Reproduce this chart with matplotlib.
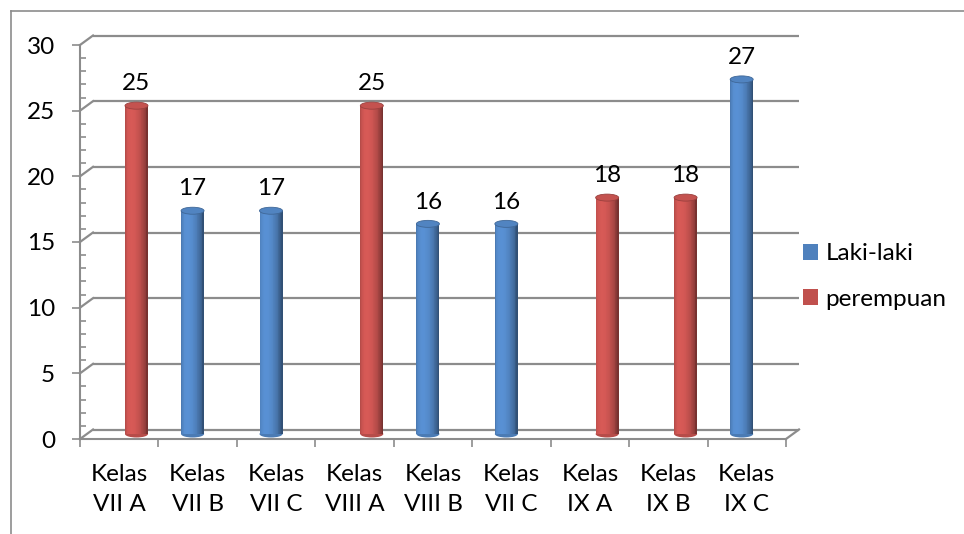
import numpy as np
import matplotlib
matplotlib.use('Agg')
import matplotlib.pyplot as plt
import matplotlib.transforms as mtransforms
from matplotlib.patches import Ellipse, Patch
from matplotlib.lines import Line2D
from matplotlib.colors import to_rgb

# ---- data ----
categories = ['Kelas\nVII A', 'Kelas\nVII B', 'Kelas\nVII C', 'Kelas\nVIII A',
              'Kelas\nVIII B', 'Kelas\nVII C', 'Kelas\nIX A', 'Kelas\nIX B', 'Kelas\nIX C']
laki = [0, 17, 17, 0, 16, 16, 0, 0, 27]
perempuan = [25, 0, 0, 25, 0, 0, 18, 18, 0]
yticks = [0, 5, 10, 15, 20, 25, 30]
series_names = ['Laki-laki', 'perempuan']
colors = ['#4F81BD', '#C0504D']

plt.rcParams['font.family'] = ['Lato', 'DejaVu Sans']
FS = 17.5
W, H = 964, 534
fig = plt.figure(figsize=(W / 100, H / 100), dpi=100)
ax = fig.add_axes([80 / W, 1 - 439 / H, 706 / W, 394 / H])
ax.set_xlim(-0.5, 8.5)
ax.set_ylim(0, 30)
ax.patch.set_alpha(0)
grey = '#8C8C8C'
for s in ['top', 'right']:
    ax.spines[s].set_visible(False)
for s in ['left', 'bottom']:
    ax.spines[s].set_color(grey)
    ax.spines[s].set_linewidth(1.5)

ppu_x = 706 / 9
ppu_y = 394 / 30
dxu = 13 / ppu_x
dyu = 9.5 / ppu_y

# back wall gridlines + depth diagonals
for v in yticks:
    ax.plot([-0.5 + dxu, 8.5 + dxu], [v + dyu, v + dyu], color=grey, lw=1.6,
            clip_on=False, zorder=1, solid_capstyle='butt')
    ax.plot([-0.5, -0.5 + dxu], [v, v + dyu], color=grey, lw=1.6, clip_on=False, zorder=1)
ax.plot([8.5, 8.5 + dxu], [0, dyu], color=grey, lw=1.6, clip_on=False, zorder=1)

# ticks
ax.set_yticks(yticks)
ax.set_yticks(np.arange(0, 31, 1), minor=True)
ax.tick_params(axis='y', which='major', direction='out', length=6, width=1.2,
               color=grey, labelsize=FS, pad=12)
ax.tick_params(axis='y', which='minor', direction='in', length=4.5, width=1.2, color=grey)
ax.set_xticks(range(len(categories)))
ax.set_xticklabels(categories, linespacing=1.55)
ax.set_xticks(np.arange(-0.5, len(categories), 1), minor=True)
ax.tick_params(axis='x', which='major', length=0, labelsize=FS, pad=18)
ax.tick_params(axis='x', which='minor', direction='out', length=6, width=1.2, color=grey)

# cylinders
bar_trans = ax.transData + mtransforms.ScaledTranslation(0, 5 / 100, fig.dpi_scale_trans)
offsets = [-0.065, 0.22]
bw = 23 / ppu_x
eh = 7 / ppu_y
N = 28


def shade(t):
    theta = np.arcsin(2 * t - 1)
    return 0.62 + 0.5 * max(0.0, np.cos(theta + 0.45))


for si, vals in enumerate([laki, perempuan]):
    base = np.array(to_rgb(colors[si]))
    xs = np.arange(len(vals)) + offsets[si]
    vals_arr = np.array(vals, dtype=float)
    for x, v in zip(xs, vals_arr):
        if v > 0:
            ax.add_patch(Ellipse((x, 0), bw, eh, transform=bar_trans,
                                 facecolor=np.clip(base * 0.95, 0, 1), edgecolor='none', zorder=2.5))
    for k in range(N):
        t = (k + 0.5) / N
        c = np.clip(base * shade(t), 0, 1)
        ax.bar(xs - bw / 2 + k * bw / N, vals_arr, width=bw / N * 1.08, align='edge',
               color=c, linewidth=0, transform=bar_trans, zorder=3)
    for x, v in zip(xs, vals_arr):
        if v > 0:
            ax.add_patch(Ellipse((x, v), bw, eh, transform=bar_trans,
                                 facecolor=np.clip(base * 1.02, 0, 1),
                                 edgecolor=np.clip(base * 0.8, 0, 1), lw=0.6, zorder=4))
            ax.annotate(f'{int(v)}', xy=(x, v), xycoords=bar_trans, xytext=(0, 11),
                        textcoords='offset points', ha='center', va='baseline',
                        fontsize=FS, zorder=5)

# legend
handles = [Patch(facecolor=c, edgecolor='none') for c in colors]
fig.legend(handles, series_names, loc='center left', bbox_to_anchor=(803 / W, 1 - 276.5 / H),
           frameon=False, fontsize=FS, handlelength=0.62, handleheight=0.62,
           handletextpad=0.3, labelspacing=1.0, borderpad=0, borderaxespad=0)

# chart border
fig.add_artist(Line2D([11 / W, 1], [1 - 11 / H, 1 - 11 / H], transform=fig.transFigure,
                      color=grey, lw=1.2))
fig.add_artist(Line2D([11 / W, 11 / W], [0, 1 - 11 / H], transform=fig.transFigure,
                      color=grey, lw=1.2))

fig.savefig('out.png', dpi=100)
